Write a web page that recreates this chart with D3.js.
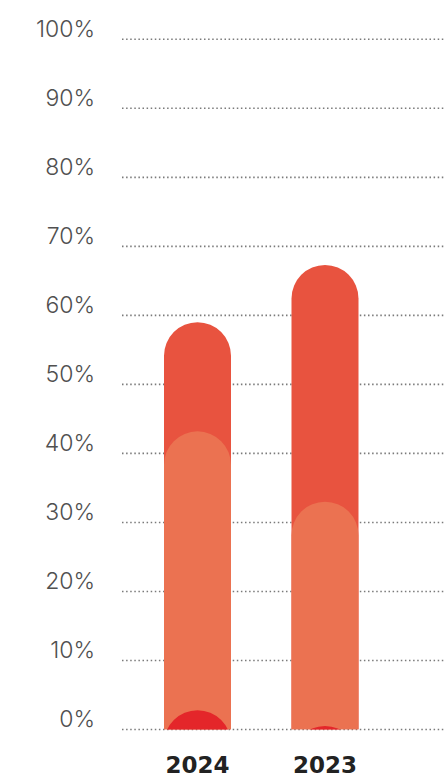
<!DOCTYPE html>
<html>
<head>
<meta charset="utf-8">
<script src="https://cdnjs.cloudflare.com/ajax/libs/d3/7.8.5/d3.min.js"></script>
<style>
  html, body { margin: 0; padding: 0; background: #fff; }
  svg { display: block; }
</style>
</head>
<body>
<div id="chart"></div>
<script>
// data
var years = ["2024", "2023"];
var totalValues = [59, 67.3];   // back red layer
var midValues = [43.2, 33];     // orange layer
var baseValues = [2.8, 0.5];    // small red layer at the bottom
var yTicks = [0, 10, 20, 30, 40, 50, 60, 70, 80, 90, 100];

var width = 445, height = 777;
var barWidth = 67;

var svg = d3.select("#chart").append("svg")
    .attr("width", width)
    .attr("height", height);

var y = d3.scaleLinear().domain([0, 100]).range([729.5, 39.3]);
var x = d3.scalePoint().domain(years).range([197.5, 325]);

// dotted grid lines
svg.append("g").attr("class", "grid")
  .selectAll("line")
  .data(yTicks)
  .enter().append("line")
    .attr("x1", 122)
    .attr("x2", width)
    .attr("y1", function(d) { return y(d); })
    .attr("y2", function(d) { return y(d); })
    .style("stroke", "#7a7a7a")
    .style("stroke-width", 1.6)
    .style("stroke-dasharray", "1.5,2.6");

// tick labels
svg.append("g").attr("class", "y-labels")
  .selectAll("text")
  .data(yTicks)
  .enter().append("text")
    .attr("x", 95)
    .attr("y", function(d) { return y(d) - 2.5; })
    .attr("text-anchor", "end")
    .style("font-family", "Inter, 'Open Sans', sans-serif")
    .style("font-weight", 300)
    .style("font-size", "23px")
    .style("fill", "#505050")
    .text(function(d) { return d + "%"; });

// bars are pill shapes standing on the baseline, clipped there
svg.append("defs").append("clipPath").attr("id", "above-base")
  .append("rect")
    .attr("x", 0).attr("y", 0)
    .attr("width", width).attr("height", y(0));

function pill(cx, v) {
  var r = barWidth / 2,
      x0 = cx - r, x1 = cx + r,
      yTop = y(v), yBase = y(0),
      yArc = yTop + r,
      yLow = Math.max(yBase, yArc);
  return "M" + x0 + "," + yLow +
         "V" + yArc +
         "A" + r + "," + r + " 0 0 1 " + x1 + "," + yArc +
         "V" + yLow + "Z";
}

var layers = [
  { values: totalValues, color: "#e8533f" },
  { values: midValues, color: "#eb7251" },
  { values: baseValues, color: "#e4262a" }
];

var bars = svg.append("g").attr("clip-path", "url(#above-base)");

layers.forEach(function(layer) {
  bars.append("g")
    .selectAll("path")
    .data(years)
    .enter().append("path")
      .attr("d", function(d, i) { return pill(x(d), layer.values[i]); })
      .style("fill", layer.color);
});

// year labels
svg.append("g").attr("class", "x-labels")
  .selectAll("text")
  .data(years)
  .enter().append("text")
    .attr("x", function(d) { return x(d); })
    .attr("y", 773)
    .attr("text-anchor", "middle")
    .style("font-family", "'DejaVu Sans', sans-serif")
    .style("font-weight", 700)
    .style("font-size", "23px")
    .style("fill", "#222")
    .text(function(d) { return d; });
</script>
</body>
</html>
